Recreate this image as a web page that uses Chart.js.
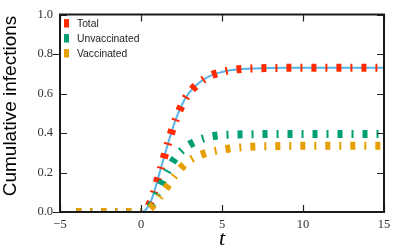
<!DOCTYPE html>
<html>
<head>
<meta charset="utf-8">
<script src="https://cdn.jsdelivr.net/npm/chart.js@4/dist/chart.umd.min.js"></script>
<style>
html,body{margin:0;padding:0;background:#fff;}
#c{display:block;}
</style>
</head>
<body>
<canvas id="c" width="400" height="247"></canvas>
<script>
// ---- data ----
const tValues = [-4,-3,-2,-1,0,0.25,0.5,0.75,1,1.25,1.5,1.75,2,2.25,2.5,2.75,3,3.5,4,4.5,5,5.5,6,7,8,9,10,11,12,13,14,15];
const totalValues = [0,0,0,0,0,0.008,0.035,0.085,0.155,0.228,0.300,0.370,0.435,0.490,0.538,0.577,0.607,0.648,0.678,0.697,0.709,0.718,0.723,0.727,0.729,0.730,0.730,0.730,0.730,0.730,0.730,0.730];
const unvaccinatedValues = [0,0,0,0,0,0.005,0.020,0.050,0.095,0.140,0.185,0.225,0.260,0.288,0.310,0.328,0.342,0.362,0.376,0.385,0.390,0.392,0.393,0.394,0.395,0.395,0.395,0.395,0.395,0.395,0.395,0.395];
const vaccinatedValues = [0,0,0,0,0,0.003,0.015,0.035,0.060,0.088,0.115,0.145,0.175,0.200,0.225,0.245,0.262,0.283,0.298,0.308,0.316,0.322,0.326,0.331,0.333,0.334,0.335,0.335,0.335,0.335,0.335,0.335];
const fitValues = [0,0,0,0,0,0.008,0.035,0.085,0.155,0.228,0.300,0.370,0.435,0.490,0.538,0.577,0.607,0.648,0.678,0.697,0.709,0.718,0.723,0.727,0.729,0.730,0.730,0.730,0.730,0.730,0.730,0.730];
const seriesLabels = ['Total','Unvaccinated','Vaccinated'];
const xTicks = [-5,0,5,10,15];
const yTicks = [0,0.2,0.4,0.6,0.8,1.0];

const colors = {total:'#ff2a00', unvacc:'#009e73', vacc:'#e69f00', fit:'#56b4e9'};
const pts = arr => tValues.map((t,i)=>({x:t,y:arr[i]}));
const dashStyle = {borderWidth:8, borderDash:[5,9,2,9], borderCapStyle:'butt', pointRadius:0, fill:false, cubicInterpolationMode:'monotone', clip:0};

const framePlugin = {
  id:'frame',
  afterDatasetsDraw(chart){
    const {ctx, chartArea:a, scales:{x,y}} = chart;
    ctx.save();
    // ticks
    ctx.strokeStyle='#222'; ctx.lineWidth=1.2;
    ctx.beginPath();
    xTicks.forEach(v=>{
      const px = Math.round(x.getPixelForValue(v))+0.5;
      ctx.moveTo(px,a.bottom); ctx.lineTo(px,a.bottom-7);
      ctx.moveTo(px,a.top); ctx.lineTo(px,a.top+7);
    });
    yTicks.forEach(v=>{
      const py = Math.round(y.getPixelForValue(v))+0.5;
      if (v!==0.8){ ctx.moveTo(a.left,py); ctx.lineTo(a.left+7,py); }
      ctx.moveTo(a.right,py); ctx.lineTo(a.right-7,py);
    });
    [0,0.8].forEach(v=>{
      const py = Math.round(y.getPixelForValue(v))+0.5;
      ctx.moveTo(a.left,py); ctx.lineTo(a.left-7,py);
    });
    ctx.stroke();
    // frame
    ctx.lineWidth=2; ctx.strokeStyle='#1a1a1a';
    ctx.strokeRect(a.left, a.top, a.right-a.left, a.bottom-a.top);
    // legend
    const items=[[seriesLabels[0],colors.total],[seriesLabels[1],colors.unvacc],[seriesLabels[2],colors.vacc]];
    ctx.font='10.3px "Liberation Sans", Arial, sans-serif';
    ctx.textBaseline='middle'; ctx.textAlign='left';
    items.forEach((it,i)=>{
      const cy = 23.3 + i*15;
      ctx.fillStyle=it[1];
      ctx.fillRect(64, cy-4.2, 5, 8.4);
      ctx.fillStyle='#222';
      ctx.fillText(it[0], 77, cy+0.5);
    });
    // axis titles
    ctx.fillStyle='#000';
    ctx.font='19px "Liberation Sans", Arial, sans-serif';
    ctx.save();
    ctx.translate(16, 106);
    ctx.rotate(-Math.PI/2);
    ctx.textAlign='center'; ctx.textBaseline='alphabetic';
    ctx.fillText('Cumulative infections',0,0);
    ctx.restore();
    ctx.font='italic 22px "Liberation Serif", "Times New Roman", serif';
    ctx.textAlign='center'; ctx.textBaseline='alphabetic';
    ctx.fillText('t', (a.left+a.right)/2, 245);
    ctx.restore();
  }
};

const tickFont = {family:'"Liberation Serif", "Times New Roman", serif', size:12.5};
new Chart(document.getElementById('c'), {
  type:'line',
  data:{datasets:[
    Object.assign({label:seriesLabels[2], data:pts(vaccinatedValues), borderColor:colors.vacc, order:0}, dashStyle),
    Object.assign({label:seriesLabels[1], data:pts(unvaccinatedValues), borderColor:colors.unvacc, order:1}, dashStyle),
    Object.assign({label:seriesLabels[0], data:pts(totalValues), borderColor:colors.total, order:2}, dashStyle),
    {label:'fit', data:pts(fitValues), borderColor:colors.fit, borderWidth:2, pointRadius:0, fill:false, cubicInterpolationMode:'monotone', clip:0, order:3}
  ]},
  options:{
    responsive:false, animation:false, devicePixelRatio:1,
    layout:{padding:{top:13,right:16,left:0,bottom:0}},
    plugins:{legend:{display:false}, tooltip:{enabled:false}},
    scales:{
      x:{type:'linear', min:-5, max:15,
         afterBuildTicks:s=>{s.ticks=xTicks.map(v=>({value:v}));},
         ticks:{font:tickFont, color:'#333', padding:5, maxRotation:0, autoSkip:false,
                callback:v=> v<0 ? '\u2212'+Math.abs(v) : String(v)},
         grid:{display:false, drawTicks:false, tickLength:0}, border:{display:false},
         afterFit:s=>{s.height=35;}},
      y:{type:'linear', min:0, max:1,
         afterBuildTicks:s=>{s.ticks=yTicks.map(v=>({value:v}));},
         ticks:{font:tickFont, color:'#333', padding:7, callback:v=>Number(v).toFixed(1)},
         grid:{display:false, drawTicks:false, tickLength:0}, border:{display:false},
         afterFit:s=>{s.width=60;}}
    }
  },
  plugins:[framePlugin]
});
</script>
</body>
</html>
